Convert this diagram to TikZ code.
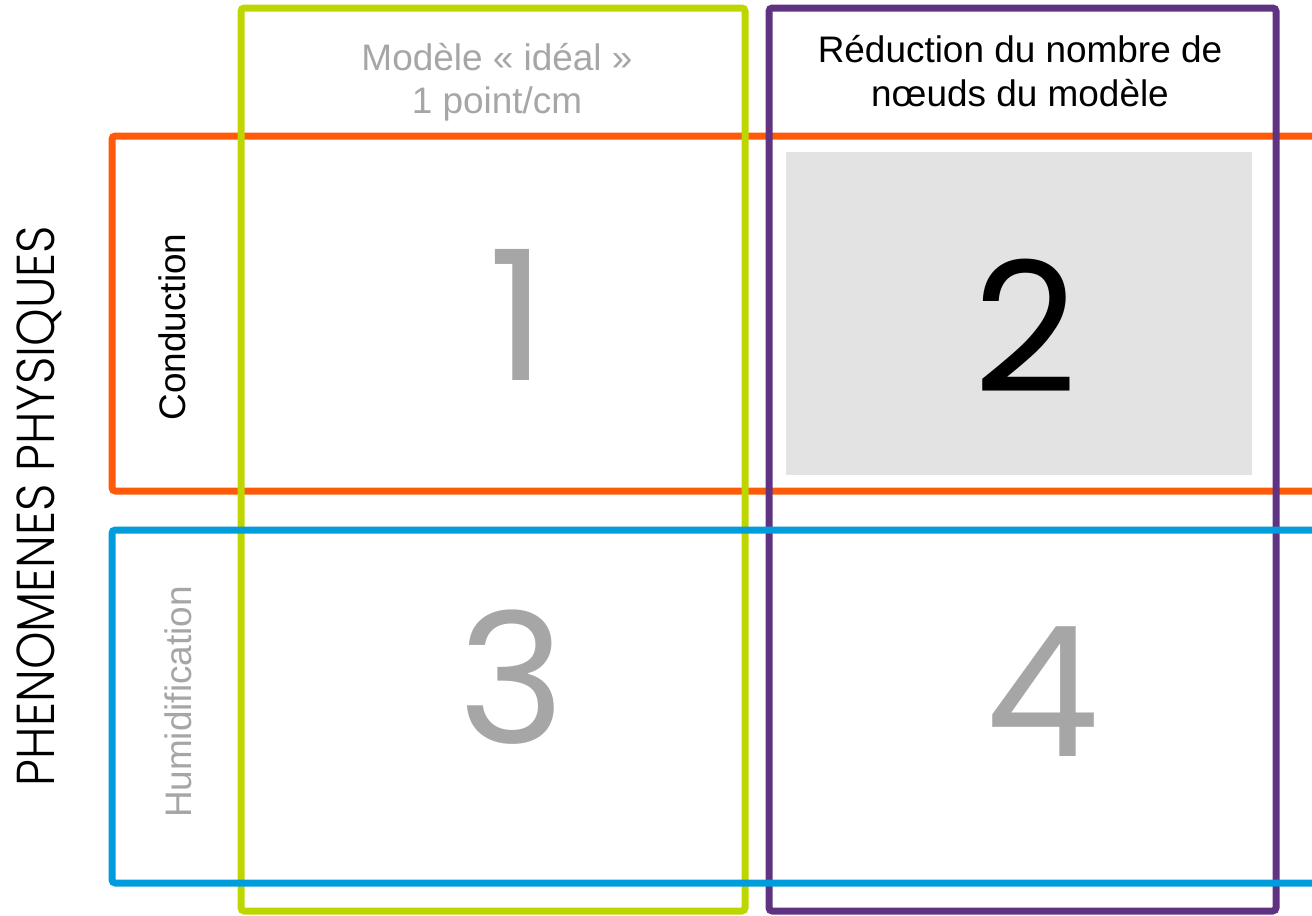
\documentclass[tikz,border=0pt]{standalone}
\usepackage{fontspec}
\setmainfont{Liberation Sans}
\newfontfamily\gothic{Poppins Light}
\newfontfamily\digits{Poppins}
\definecolor{cgreen}{RGB}{190,214,0}
\definecolor{corange}{RGB}{255,90,10}
\definecolor{cpurple}{RGB}{95,51,130}
\definecolor{cblue}{RGB}{0,156,220}
\definecolor{tgray}{RGB}{166,166,166}
\definecolor{fgray}{RGB}{227,227,227}
\tikzset{
  frame/.style={line width=5.25pt, rounded corners=2.5pt},
  lbl/.style={inner sep=0pt, font=\fontsize{27.7}{33}\selectfont, align=center},
  bignum/.style={inner sep=0pt, font=\digits\fontsize{136}{136}\selectfont},
}
\begin{document}
\begin{tikzpicture}[x=0.75pt,y=-0.75pt]
\useasboundingbox (0,0) rectangle (1312,915);
% gray cell
\fill[fgray] (786,152) rectangle (1252,475);
% orange row
\draw[frame,corange] (1312,136) -- (112,136) -- (112,491) -- (1312,491);
% green column
\draw[frame,cgreen] (241,8) rectangle (745,911);
% purple column
\draw[frame,cpurple] (769,8) rectangle (1276,911);
% blue row
\draw[frame,cblue] (1312,530) -- (112,530) -- (112,883) -- (1312,883);
% headers
\node[lbl,text=tgray,anchor=base] (h1a) at (497,70) {Modèle « idéal »};
\node[lbl,text=tgray,anchor=base] (h1b) at (497,113) {1 point/cm};
\node[lbl,anchor=base] (h2a) at (1020,62) {Réduction du nombre de};
\node[lbl,anchor=base] (h2b) at (1020,106) {nœuds du modèle};
% row labels
\node[lbl,anchor=base,rotate=90] (r1) at (185,327) {Conduction};
\node[lbl,anchor=base,rotate=90,text=tgray] (r2) at (191,702) {Humidification};
\node[inner sep=0pt,anchor=base,rotate=90,font=\gothic\fontsize{40}{40}\selectfont] (side) at (54,506) {\scalebox{0.895}[1]{PHENOMENES PHYSIQUES}};
% numbers
\node[bignum,text=tgray] (n1) at (518,315) {1};
\node[bignum] (n2) at (1026,326) {2};
\node[bignum,text=tgray] (n3) at (512,677) {3};
\node[bignum,text=tgray] (n4) at (1043,692) {4};
\end{tikzpicture}
\end{document}
